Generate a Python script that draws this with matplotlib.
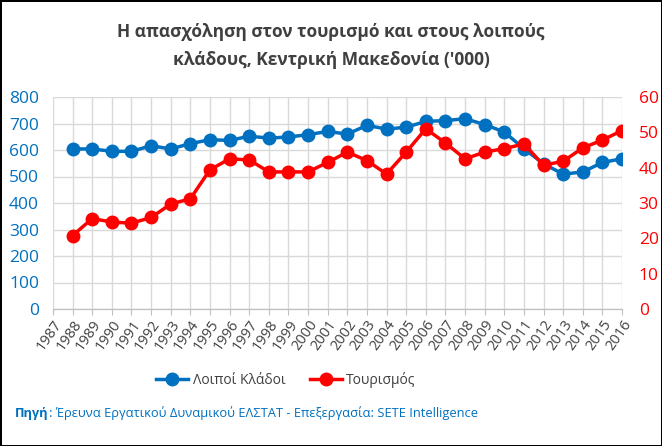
import matplotlib
matplotlib.use('Agg')
import matplotlib.pyplot as plt
import numpy as np

plt.rcParams['font.family'] = ['Open Sans', 'DejaVu Sans']

# Data (thousands of employees), Central Macedonia
years = [str(y) for y in range(1987, 2017)]
other = [np.nan, 604, 604, 595, 595, 616, 604, 624, 639, 636, 652, 645, 649, 658, 670,
         660, 693, 679, 686, 708, 711, 718, 696, 668, 605, 548, 509, 517, 553, 567]
tourism = [np.nan, 20.8, 25.6, 24.6, 24.3, 25.9, 29.7, 31.2, 39.4, 42.5, 42.2, 38.8, 38.8, 38.8, 41.5,
           44.4, 42.0, 38.2, 44.4, 51.0, 47.0, 42.5, 44.4, 45.4, 46.7, 40.7, 41.8, 45.6, 47.8, 50.5]

blue = '#0070C0'
red = '#FF0000'
grey_txt = '#404040'

fig = plt.figure(figsize=(6.62, 4.46), dpi=100)
fig.patch.set_edgecolor('black')
fig.patch.set_linewidth(2)

ax = fig.add_axes([53 / 662, 1 - 309 / 446, (622 - 53) / 662, (309 - 97) / 446])
ax2 = ax.twinx()

x = np.arange(len(years))
l1, = ax.plot(x, other, color=blue, lw=2.5, marker='o', ms=9, label='Λοιποί Κλάδοι', zorder=3)
l2, = ax2.plot(x, tourism, color=red, lw=2.5, marker='o', ms=9, label='Τουρισμός', zorder=3)

ax.set_xlim(0, len(years) - 1)
ax.set_ylim(0, 800)
ax2.set_ylim(0, 60)
ax.set_yticks(range(0, 801, 100))
ax2.set_yticks(range(0, 61, 10))
ax.set_xticks(x)
ax.set_xticklabels(years, rotation=55, ha='right', rotation_mode='anchor', fontsize=10.5, color=grey_txt)
ax.tick_params(axis='x', length=4, color='#BFBFBF', pad=2)
ax.tick_params(axis='y', length=0, labelsize=12.5, labelcolor=blue, pad=10)
ax2.tick_params(axis='y', length=0, labelsize=12.5, labelcolor=red, pad=12)

ax.grid(True, color='#D9D9D9', lw=1)
ax.set_axisbelow(True)
for a in (ax, ax2):
    for s in ('top', 'left', 'right'):
        a.spines[s].set_visible(False)
    a.spines['bottom'].set_color('#BFBFBF')

fig.text(0.5, 1 - 32 / 446, 'Η απασχόληση στον τουρισμό και στους λοιπούς',
         ha='center', va='center', fontsize=12.5, fontweight='bold', color=grey_txt)
fig.text(0.5, 1 - 60 / 446, "κλάδους, Κεντρική Μακεδονία ('000)",
         ha='center', va='center', fontsize=12.5, fontweight='bold', color=grey_txt)

fig.legend(handles=[l1, l2], loc='center', bbox_to_anchor=(286 / 662, 1 - 380 / 446), ncol=2,
           frameon=False, fontsize=10, handlelength=2.3, handletextpad=0.3,
           columnspacing=1.8, labelcolor=grey_txt)

# source line: bold prefix + normal text
fig.canvas.draw()
r = fig.canvas.get_renderer()
t1 = fig.text(15 / 662, 1 - 413 / 446, 'Πηγή', ha='left', va='center', fontsize=9.3,
              fontweight='bold', color=blue)
bb = t1.get_window_extent(r)
fig.text(bb.x1 / fig.bbox.width, 1 - 413 / 446,
         ': Έρευνα Εργατικού Δυναμικού ΕΛΣΤΑΤ - Επεξεργασία: SETE Intelligence',
         ha='left', va='center', fontsize=9.3, color=blue)

fig.savefig('out.png', dpi=100, edgecolor='black')
